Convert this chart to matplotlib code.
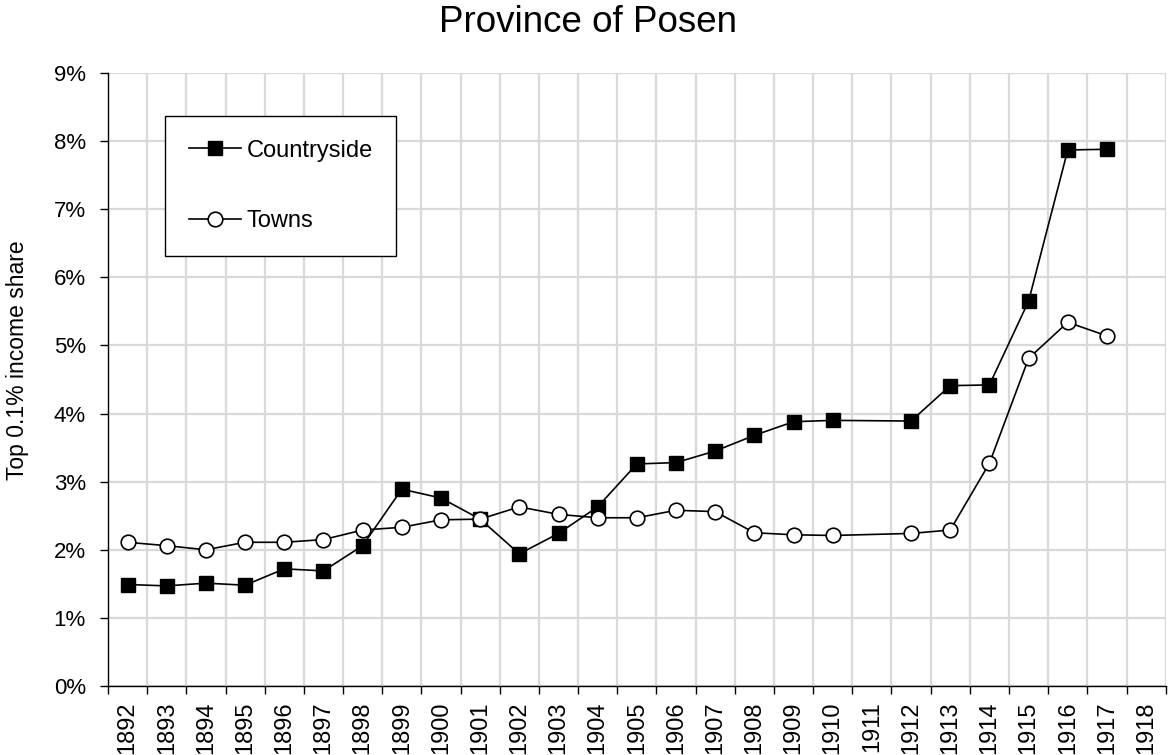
import numpy as np
import matplotlib
matplotlib.use("Agg")
import matplotlib.pyplot as plt
from matplotlib.ticker import FixedLocator, NullFormatter, FixedFormatter

plt.rcParams['font.family'] = ['Liberation Sans', 'DejaVu Sans']

years = list(range(1892, 1919))
countryside = [1.49, 1.47, 1.51, 1.48, 1.72, 1.69, 2.06, 2.89, 2.76, 2.45,
               1.94, 2.24, 2.63, 3.26, 3.28, 3.45, 3.68, 3.88, 3.90, None,
               3.89, 4.41, 4.42, 5.65, 7.87, 7.88, None]
towns = [2.11, 2.06, 2.00, 2.11, 2.11, 2.15, 2.29, 2.33, 2.44, 2.45,
         2.63, 2.52, 2.47, 2.47, 2.58, 2.56, 2.25, 2.22, 2.21, None,
         2.24, 2.29, 3.27, 4.81, 5.34, 5.14, None]
yticks = [0, 1, 2, 3, 4, 5, 6, 7, 8, 9]

fig = plt.figure(figsize=(11.68, 7.55), dpi=100)
ax = fig.add_axes([108/1168, 1-686/755, (1165.7-108)/1168, (686-73)/755])

n = len(years)
xpos = np.arange(n)

def series(vals):
    xs = [x for x, v in zip(xpos, vals) if v is not None]
    ys = [v for v in vals if v is not None]
    return xs, ys

xc, yc = series(countryside)
xt, yt = series(towns)
ax.plot(xc, yc, color='black', lw=1.2, marker='s', markersize=9.5,
        markerfacecolor='black', markeredgecolor='black', label='Countryside', zorder=3)
ax.plot(xt, yt, color='black', lw=1.2, marker='o', markersize=10.5,
        markerfacecolor='white', markeredgecolor='black', markeredgewidth=1.2,
        label='Towns', zorder=3)

ax.set_xlim(-0.5, n - 0.5)
ax.set_ylim(0, 9)
ax.xaxis.set_major_locator(FixedLocator(np.arange(-0.5, n, 1.0)))
ax.xaxis.set_major_formatter(NullFormatter())
ax.xaxis.set_minor_locator(FixedLocator(xpos))
ax.xaxis.set_minor_formatter(FixedFormatter([str(y) for y in years]))
ax.tick_params(axis='x', which='minor', length=0, labelsize=17, rotation=90, pad=11)
ax.tick_params(axis='x', which='major', length=6, width=1, direction='out')
ax.set_yticks(yticks)
ax.set_yticklabels([f"{v}%" for v in yticks])
ax.tick_params(axis='y', length=6, width=1, labelsize=16, pad=10)

ax.grid(True, which='major', color='#d9d9d9', lw=1.6, zorder=0)
ax.set_axisbelow(True)
for s in ['top', 'right']:
    ax.spines[s].set_visible(False)
for s in ['left', 'bottom']:
    ax.spines[s].set_linewidth(1.0)

fig.text(18/1168, 1-360/755, 'Top 0.1% income share', fontsize=16.5,
         rotation=90, ha='center', va='center')
fig.text(588/1168, 1-22/755, 'Province of Posen', fontsize=26.5, ha='center', va='center')

leg = ax.legend(loc='upper left', bbox_to_anchor=((165-108)/1057.7, (686-116)/613),
                fontsize=17, frameon=True, fancybox=False, edgecolor='black',
                framealpha=1, borderpad=1.0, labelspacing=2.05, handlelength=2.2,
                handletextpad=0.25, borderaxespad=0)
leg.get_frame().set_linewidth(1.0)

fig.savefig('out.png', dpi=100)
